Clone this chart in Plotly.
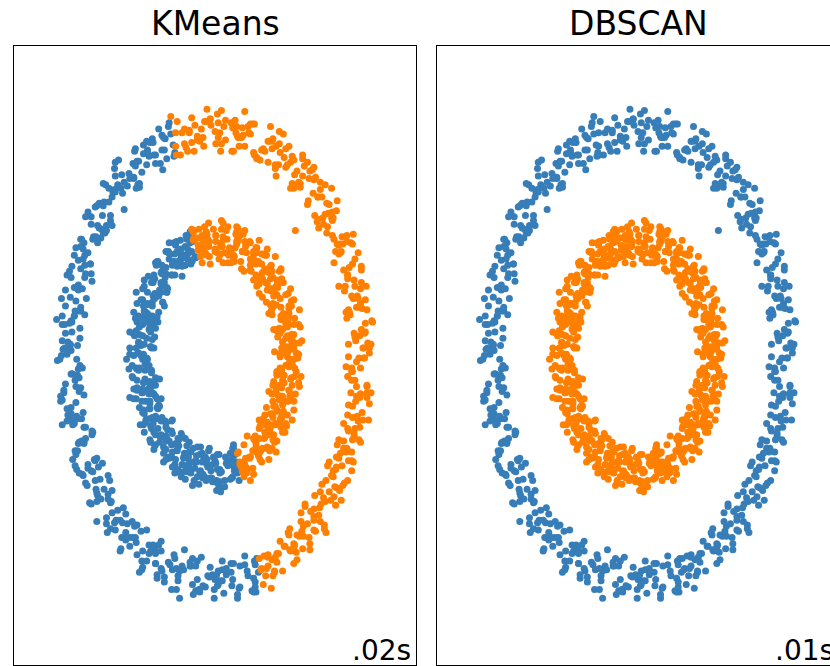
import plotly.graph_objects as go

# Noisy-circles sample points (standardised units, axes -2.5..2.5)
# Outer ring, part that KMeans labels orange (right side of its split)
OUTER_RIGHT = [
    (0.74,-1.74),(0.61,-1.62),(0.70,-1.88),(0.57,-1.73),(0.77,-1.60),(0.66,-1.70),
    (0.63,-1.78),(0.60,-1.85),(0.66,-1.63),(0.58,-1.72),
    (0.84,-1.74),(0.66,-1.61),(0.87,-1.54),(0.77,-1.67),(0.93,-1.57),(0.72,-1.78),
    (0.92,-1.45),(0.81,-1.50),(0.94,-1.58),(1.02,-1.65),(0.86,-1.54),(0.75,-1.63),
    (1.07,-1.34),(1.01,-1.59),(0.93,-1.40),(1.18,-1.52),(0.98,-1.68),(1.10,-1.46),
    (0.99,-1.53),(1.15,-1.36),(1.05,-1.46),(1.23,-1.30),(1.10,-1.38),(1.18,-1.57),
    (1.07,-1.27),(1.23,-1.41),(1.12,-1.20),(1.31,-1.34),(1.17,-1.47),(1.36,-1.40),
    (1.19,-1.26),(1.35,-1.15),(1.23,-1.33),(1.30,-1.23),(1.38,-1.43),(1.12,-1.22),
    (1.52,-1.07),(1.37,-1.18),(1.45,-0.97),(1.29,-1.29),(1.42,-1.10),(1.33,-1.04),
    (1.57,-1.17),(1.31,-1.10),(1.47,-0.98),(1.55,-1.09),(1.38,-1.01),(1.50,-1.21),
    (1.51,-0.82),(1.70,-0.93),(1.42,-0.86),(1.61,-1.03),(1.49,-1.06),(1.56,-0.79),
    (1.72,-0.86),(1.51,-0.90),(1.60,-0.75),(1.70,-0.78),(1.47,-0.93),(1.66,-0.85),
    (1.70,-0.85),(1.52,-0.72),(1.73,-0.65),(1.63,-0.78),(1.79,-0.68),(1.58,-0.89),
    (1.71,-0.50),(1.60,-0.55),(1.73,-0.63),(1.81,-0.70),(1.65,-0.59),(1.54,-0.68),
    (1.80,-0.34),(1.74,-0.59),(1.66,-0.40),(1.91,-0.52),(1.71,-0.68),(1.83,-0.46),
    (1.65,-0.48),(1.81,-0.31),(1.71,-0.41),(1.89,-0.25),(1.76,-0.33),(1.84,-0.52),
    (1.65,-0.17),(1.81,-0.31),(1.70,-0.10),(1.89,-0.24),(1.75,-0.37),(1.94,-0.30),
    (1.70,-0.13),(1.86,-0.02),(1.74,-0.20),(1.81,-0.10),(1.89,-0.30),(1.63,-0.09),
    (1.94,0.09),(1.79,-0.02),(1.87,0.19),(1.71,-0.13),(1.84,0.06),(1.75,0.12),
    (1.92,0.02),(1.66,0.09),(1.82,0.21),(1.90,0.10),(1.73,0.18),(1.85,-0.02),
    (1.76,0.39),(1.95,0.28),(1.67,0.35),(1.86,0.18),(1.74,0.15),(1.81,0.42),
    (1.89,0.37),(1.68,0.33),(1.77,0.48),(1.87,0.45),(1.64,0.30),(1.83,0.38),
    (1.79,0.39),(1.61,0.52),(1.82,0.59),(1.72,0.46),(1.88,0.56),(1.67,0.35),
    (1.71,0.74),(1.60,0.69),(1.73,0.61),(1.81,0.54),(1.65,0.65),(1.54,0.56),
    (1.71,0.90),(1.65,0.65),(1.57,0.84),(1.82,0.72),(1.62,0.56),(1.74,0.78),
    (1.48,0.75),(1.64,0.92),(1.54,0.82),(1.72,0.98),(1.59,0.90),(1.67,0.71),
    (1.40,1.04),(1.56,0.90),(1.45,1.11),(1.64,0.97),(1.50,0.84),(1.69,0.91),
    (1.35,1.06),(1.51,1.17),(1.39,0.99),(1.46,1.09),(1.54,0.89),(1.28,1.10),
    (1.52,1.25),(1.37,1.14),(1.45,1.35),(1.29,1.03),(1.42,1.22),(1.33,1.28),
    (1.41,1.15),(1.15,1.22),(1.31,1.34),(1.39,1.23),(1.22,1.31),(1.34,1.11),
    (1.18,1.49),(1.37,1.38),(1.09,1.45),(1.28,1.28),(1.16,1.25),(1.23,1.52),
    (1.23,1.42),(1.02,1.38),(1.11,1.53),(1.21,1.50),(0.98,1.35),(1.17,1.43),
    (1.06,1.39),(0.88,1.52),(1.09,1.59),(0.99,1.46),(1.15,1.56),(0.94,1.35),
    (0.92,1.69),(0.81,1.64),(0.94,1.56),(1.02,1.49),(0.86,1.60),(0.75,1.51),
    (0.85,1.79),(0.79,1.54),(0.71,1.73),(0.96,1.61),(0.76,1.45),(0.88,1.67),
    (0.56,1.58),(0.72,1.75),(0.62,1.65),(0.80,1.81),(0.67,1.73),(0.75,1.54),
    (0.42,1.80),(0.58,1.66),(0.47,1.87),(0.66,1.73),(0.52,1.60),(0.71,1.67),
    (0.33,1.76),(0.49,1.87),(0.37,1.69),(0.44,1.79),(0.52,1.59),(0.26,1.80),
    (0.44,1.87),(0.29,1.76),(0.37,1.97),(0.21,1.65),(0.34,1.84),(0.25,1.90),
    (0.30,1.69),(0.04,1.76),(0.20,1.88),(0.28,1.77),(0.11,1.85),(0.23,1.65),
    (0.03,1.95),(0.22,1.84),(-0.06,1.91),(0.13,1.74),(0.01,1.71),(0.08,1.98),
    (0.06,1.80),(-0.15,1.76),(-0.06,1.91),(0.04,1.88),(-0.19,1.73),(0.00,1.81),
    (-0.14,1.69),(-0.32,1.82),(-0.11,1.89),(-0.21,1.76),(-0.05,1.86),(-0.26,1.65),
    (-0.25,1.86),(-0.38,1.71),(-0.29,1.92),(-0.41,1.80),(-0.22,1.74),(-0.34,1.65),
    (-0.38,1.83),(-0.47,1.89),(-0.36,1.68),(-0.43,1.62),
    (-0.49,1.80),(-0.55,1.93),
    (1.00,1.01),
    (1.92,0.06),(1.76,-0.05),(1.87,0.26),(1.80,0.16),(1.70,0.48),(1.96,0.27),
    (1.63,0.35),(1.78,0.46),(1.66,0.37),(1.82,0.69),(1.65,0.62),(1.74,0.56),
    (1.52,0.90),(1.78,0.83),(1.56,0.83),(1.48,0.94),(1.58,0.96),(1.46,1.16),
    (1.46,0.97),(1.27,1.08),(1.47,1.11),(1.28,1.28),(1.31,1.40),(1.24,1.13),
    (1.04,1.40),(1.25,1.44),(1.06,1.36),(0.96,1.39),(1.09,1.62),(0.90,1.54),
    (0.80,1.71),(0.98,1.58),(0.66,1.56),(0.76,1.69),(0.48,1.64),(0.69,1.85),
    (0.49,1.62),(0.60,1.67),(0.35,1.78),(0.27,1.85),(0.30,1.76),(0.41,1.85),
    (0.07,1.65),(0.13,1.90),(0.08,1.71),(-0.17,1.83),(-0.10,1.99),(-0.22,1.77),
    (-0.13,1.89),(-0.29,1.72),(-0.32,1.80),(-0.49,1.69),(-0.48,1.62),
    (0.55,-1.64),(0.71,-1.65),(0.74,-1.75),(0.64,-1.72),(0.98,-1.52),(0.79,-1.60),
    (0.91,-1.43),(1.09,-1.56),(0.98,-1.55),(1.08,-1.42),(1.02,-1.45),(1.23,-1.24),
    (1.25,-1.42),(1.36,-1.37),(1.32,-1.20),(1.24,-1.13),(1.48,-1.14),(1.59,-1.05),
    (1.44,-1.17),(1.50,-0.92),(1.65,-1.01),(1.40,-0.89),(1.66,-0.61),(1.54,-0.83),
    (1.80,-0.58),(1.64,-0.75),(1.78,-0.53),(1.60,-0.69),(1.77,-0.49),(1.69,-0.30),
    (1.92,-0.39),(1.76,-0.25),(1.89,-0.34),(1.70,-0.20),(1.85,0.06),(1.66,-0.01),
]

# Outer ring, part that KMeans labels blue
OUTER_LEFT = [
    (-0.62,1.75),(-0.74,1.62),(-0.70,1.83),(-0.60,1.59),(-0.77,1.72),(-0.66,1.66),
    (-0.52,1.70),(-0.55,1.79),
    (-0.63,1.66),(-0.58,1.85),(-0.51,1.61),(-0.66,1.78),
    (-0.78,1.75),(-0.89,1.70),(-0.76,1.62),(-0.68,1.55),(-0.84,1.66),(-0.95,1.57),
    (-0.85,1.73),(-0.91,1.48),(-0.99,1.67),(-0.74,1.55),(-0.94,1.39),(-0.82,1.61),
    (-1.13,1.40),(-0.97,1.57),(-1.07,1.47),(-0.89,1.63),(-1.02,1.55),(-0.94,1.36),
    (-1.25,1.51),(-1.09,1.37),(-1.20,1.58),(-1.01,1.44),(-1.15,1.31),(-0.96,1.38),
    (-1.32,1.35),(-1.16,1.46),(-1.28,1.28),(-1.21,1.38),(-1.13,1.18),(-1.39,1.39),
    (-1.17,1.35),(-1.32,1.24),(-1.24,1.45),(-1.40,1.13),(-1.27,1.32),(-1.36,1.38),
    (-1.28,1.05),(-1.54,1.12),(-1.38,1.24),(-1.30,1.13),(-1.47,1.21),(-1.35,1.01),
    (-1.49,1.20),(-1.30,1.09),(-1.58,1.16),(-1.39,0.99),(-1.51,0.96),(-1.44,1.23),
    (-1.42,0.95),(-1.63,0.91),(-1.54,1.06),(-1.44,1.03),(-1.67,0.88),(-1.48,0.96),
    (-1.55,0.74),(-1.73,0.87),(-1.52,0.94),(-1.62,0.81),(-1.46,0.91),(-1.67,0.70),
    (-1.64,0.86),(-1.75,0.81),(-1.62,0.73),(-1.54,0.66),(-1.70,0.77),(-1.81,0.68),
    (-1.64,0.78),(-1.70,0.53),(-1.78,0.72),(-1.53,0.60),(-1.73,0.44),(-1.61,0.66),
    (-1.86,0.40),(-1.70,0.57),(-1.80,0.47),(-1.62,0.63),(-1.75,0.55),(-1.67,0.36),
    (-1.91,0.46),(-1.75,0.32),(-1.86,0.53),(-1.67,0.39),(-1.81,0.26),(-1.62,0.33),
    (-1.90,0.25),(-1.74,0.36),(-1.86,0.18),(-1.79,0.28),(-1.71,0.08),(-1.97,0.29),
    (-1.68,0.22),(-1.83,0.11),(-1.75,0.32),(-1.91,0.00),(-1.78,0.19),(-1.87,0.25),
    (-1.70,-0.11),(-1.96,-0.04),(-1.80,0.08),(-1.72,-0.03),(-1.89,0.05),(-1.77,-0.15),
    (-1.84,0.01),(-1.65,-0.10),(-1.93,-0.03),(-1.74,-0.20),(-1.86,-0.23),(-1.79,0.04),
    (-1.67,-0.26),(-1.88,-0.30),(-1.79,-0.15),(-1.69,-0.18),(-1.92,-0.33),(-1.73,-0.25),
    (-1.72,-0.49),(-1.90,-0.36),(-1.69,-0.29),(-1.79,-0.42),(-1.63,-0.32),(-1.84,-0.53),
    (-1.73,-0.38),(-1.84,-0.43),(-1.71,-0.51),(-1.63,-0.58),(-1.79,-0.47),(-1.90,-0.56),
    (-1.64,-0.46),(-1.70,-0.71),(-1.78,-0.52),(-1.53,-0.64),(-1.73,-0.80),(-1.61,-0.58),
    (-1.77,-0.84),(-1.61,-0.67),(-1.71,-0.77),(-1.53,-0.61),(-1.66,-0.69),(-1.58,-0.88),
    (-1.74,-0.77),(-1.58,-0.91),(-1.69,-0.70),(-1.50,-0.84),(-1.64,-0.97),(-1.45,-0.90),
    (-1.65,-0.96),(-1.49,-0.85),(-1.61,-1.03),(-1.54,-0.93),(-1.46,-1.13),(-1.72,-0.92),
    (-1.33,-0.97),(-1.48,-1.08),(-1.40,-0.87),(-1.56,-1.19),(-1.43,-1.00),(-1.52,-0.94),
    (-1.28,-1.27),(-1.54,-1.20),(-1.38,-1.08),(-1.30,-1.19),(-1.47,-1.11),(-1.35,-1.31),
    (-1.33,-1.12),(-1.14,-1.23),(-1.42,-1.16),(-1.23,-1.33),(-1.35,-1.36),(-1.28,-1.09),
    (-1.09,-1.36),(-1.30,-1.40),(-1.21,-1.25),(-1.11,-1.28),(-1.34,-1.43),(-1.15,-1.35),
    (-1.06,-1.54),(-1.24,-1.41),(-1.03,-1.34),(-1.13,-1.47),(-0.97,-1.37),(-1.18,-1.58),
    (-1.00,-1.38),(-1.11,-1.43),(-0.98,-1.51),(-0.90,-1.58),(-1.06,-1.47),(-1.17,-1.56),
    (-0.85,-1.41),(-0.91,-1.66),(-0.99,-1.47),(-0.74,-1.59),(-0.94,-1.75),(-0.82,-1.53),
    (-0.91,-1.73),(-0.75,-1.56),(-0.85,-1.66),(-0.67,-1.50),(-0.80,-1.58),(-0.72,-1.77),
    (-0.82,-1.60),(-0.66,-1.74),(-0.77,-1.53),(-0.58,-1.67),(-0.72,-1.80),(-0.53,-1.73),
    (-0.67,-1.72),(-0.51,-1.61),(-0.63,-1.79),(-0.56,-1.69),(-0.48,-1.89),(-0.74,-1.68),
    (-0.31,-1.67),(-0.46,-1.78),(-0.38,-1.57),(-0.54,-1.89),(-0.41,-1.70),(-0.50,-1.64),
    (-0.20,-1.89),(-0.46,-1.82),(-0.30,-1.70),(-0.22,-1.81),(-0.39,-1.73),(-0.27,-1.93),
    (-0.22,-1.66),(-0.03,-1.77),(-0.31,-1.70),(-0.12,-1.87),(-0.24,-1.90),(-0.17,-1.63),
    (0.06,-1.82),(-0.15,-1.86),(-0.06,-1.71),(0.04,-1.74),(-0.19,-1.89),(0.00,-1.81),
    (0.11,-1.92),(-0.07,-1.79),(0.14,-1.72),(0.04,-1.85),(0.20,-1.75),(-0.01,-1.96),
    (0.20,-1.68),(0.09,-1.73),(0.22,-1.81),(0.30,-1.88),(0.14,-1.77),(0.03,-1.86),
    (0.37,-1.62),(0.31,-1.87),(0.23,-1.68),(0.48,-1.80),(0.28,-1.96),(0.40,-1.74),
    (0.50,-1.83),(0.37,-1.69),(0.46,-1.90),(0.41,-1.78),(0.52,-1.64),
    (0.49,-1.66),(0.54,-1.75),(0.51,-1.91),
    (-0.50,1.64),(-0.57,1.88),(-0.64,1.76),(-0.65,1.50),(-0.84,1.64),(-0.81,1.72),
    (-1.00,1.65),(-0.85,1.54),(-1.01,1.43),(-0.99,1.53),(-1.06,1.43),(-1.24,1.56),
    (-0.98,1.35),(-1.39,1.21),(-1.24,1.32),(-1.41,1.02),(-1.25,1.34),(-1.46,1.05),
    (-1.37,0.99),(-1.61,1.12),(-1.35,1.05),(-1.58,0.83),(-1.66,0.94),(-1.55,0.74),
    (-1.67,0.94),(-1.65,0.54),(-1.84,0.65),(-1.60,0.46),(-1.79,0.63),(-1.71,0.54),
    (-1.78,0.27),(-1.90,0.32),(-1.69,0.36),(-1.80,0.09),(-1.90,0.12),(-1.68,0.14),
    (-1.87,0.06),(-1.86,0.05),(-1.68,-0.08),(-1.88,-0.28),(-1.78,-0.15),(-1.92,-0.37),
    (-1.71,-0.16),(-1.77,-0.56),(-1.66,-0.51),(-1.75,-0.55),(-1.83,-0.48),(-1.63,-0.71),
    (-1.52,-0.62),(-1.69,-0.95),(-1.63,-0.70),(-1.49,-1.01),(-1.74,-0.89),(-1.47,-0.83),
    (-1.59,-1.05),(-1.31,-1.01),(-1.47,-1.18),(-1.29,-1.18),(-1.47,-1.34),(-1.25,-1.35),
    (-1.33,-1.16),(-1.02,-1.47),(-1.18,-1.33),(-0.97,-1.61),(-1.16,-1.47),(-0.92,-1.42),
    (-1.11,-1.49),(-0.74,-1.60),(-0.90,-1.71),(-0.67,-1.58),(-0.74,-1.68),(-0.70,-1.53),
    (-0.44,-1.74),(-0.63,-1.83),(-0.48,-1.72),(-0.44,-1.96),(-0.28,-1.64),(-0.28,-1.85),
    (-0.19,-1.91),(-0.24,-1.70),(0.02,-1.77),(-0.01,-1.89),(-0.09,-1.78),(0.21,-1.86),
    (0.09,-1.66),(0.28,-1.93),(0.09,-1.82),(0.50,-1.87),(0.31,-1.70),(0.48,-1.91),
    (0.50,-1.69),
]

# Inner ring, part that KMeans labels orange
INNER_RIGHT = [
    (0.40,-0.94),(0.51,-0.78),(0.33,-0.90),(0.43,-0.83),(0.44,-1.01),
    (0.55,-0.67),(0.44,-0.82),(0.65,-0.74),(0.33,-0.90),(0.52,-0.77),(0.58,-0.86),
    (0.40,-0.65),(0.47,-0.91),(0.59,-0.75),(0.48,-0.67),(0.56,-0.84),(0.36,-0.72),
    (0.71,-0.75),(0.60,-0.56),(0.67,-0.84),(0.50,-0.65),(0.47,-0.77),(0.74,-0.70),
    (0.61,-0.56),(0.57,-0.77),(0.72,-0.68),(0.69,-0.58),(0.54,-0.81),(0.62,-0.62),
    (0.55,-0.59),(0.68,-0.77),(0.75,-0.56),(0.62,-0.66),(0.72,-0.50),(0.51,-0.71),
    (0.82,-0.58),(0.77,-0.69),(0.69,-0.56),(0.62,-0.48),(0.73,-0.64),(0.64,-0.75),
    (0.90,-0.48),(0.65,-0.54),(0.84,-0.62),(0.72,-0.37),(0.56,-0.57),(0.78,-0.45),
    (0.68,-0.61),(0.85,-0.45),(0.75,-0.55),(0.91,-0.37),(0.83,-0.50),(0.64,-0.42),
    (0.89,-0.57),(0.75,-0.41),(0.96,-0.52),(0.82,-0.33),(0.69,-0.47),(0.76,-0.28),
    (0.84,-0.48),(0.95,-0.32),(0.77,-0.44),(0.87,-0.37),(0.67,-0.29),(0.88,-0.55),
    (0.95,-0.18),(0.84,-0.33),(1.05,-0.25),(0.73,-0.41),(0.92,-0.28),(0.98,-0.37),
    (0.77,-0.14),(0.84,-0.40),(0.96,-0.24),(0.85,-0.16),(0.93,-0.33),(0.73,-0.21),
    (1.04,-0.22),(0.93,-0.03),(1.00,-0.31),(0.83,-0.12),(0.80,-0.24),(1.07,-0.17),
    (0.90,-0.01),(0.86,-0.22),(1.01,-0.13),(0.98,-0.03),(0.83,-0.26),(0.91,-0.07),
    (0.81,-0.01),(0.94,-0.19),(1.01,0.02),(0.88,-0.08),(0.98,0.08),(0.77,-0.13),
    (1.04,0.01),(0.99,-0.10),(0.91,0.03),(0.84,0.11),(0.95,-0.05),(0.86,-0.16),
    (1.08,0.12),(0.83,0.06),(1.02,-0.02),(0.90,0.23),(0.74,0.03),(0.96,0.15),
    (0.81,0.01),(0.98,0.17),(0.88,0.07),(1.04,0.25),(0.96,0.12),(0.77,0.20),
    (0.98,0.05),(0.84,0.21),(1.05,0.10),(0.91,0.29),(0.78,0.15),(0.85,0.34),
    (0.88,0.14),(0.99,0.30),(0.81,0.18),(0.91,0.25),(0.71,0.33),(0.92,0.07),
    (0.95,0.44),(0.84,0.29),(1.05,0.37),(0.73,0.21),(0.92,0.34),(0.98,0.25),
    (0.73,0.48),(0.80,0.22),(0.92,0.38),(0.81,0.46),(0.89,0.29),(0.69,0.41),
    (0.95,0.40),(0.84,0.59),(0.91,0.31),(0.74,0.50),(0.71,0.38),(0.98,0.45),
    (0.77,0.61),(0.73,0.40),(0.88,0.49),(0.85,0.59),(0.70,0.36),(0.78,0.55),
    (0.63,0.59),(0.76,0.41),(0.83,0.62),(0.70,0.52),(0.80,0.68),(0.59,0.47),
    (0.82,0.60),(0.77,0.49),(0.69,0.62),(0.62,0.70),(0.73,0.54),(0.64,0.43),
    (0.82,0.70),(0.57,0.64),(0.76,0.56),(0.64,0.81),(0.48,0.61),(0.70,0.73),
    (0.52,0.56),(0.69,0.72),(0.59,0.62),(0.75,0.80),(0.67,0.67),(0.48,0.75),
    (0.65,0.58),(0.51,0.74),(0.72,0.63),(0.58,0.82),(0.45,0.68),(0.52,0.87),
    (0.51,0.65),(0.62,0.81),(0.44,0.69),(0.54,0.76),(0.34,0.84),(0.55,0.58),
    (0.55,0.93),(0.44,0.78),(0.65,0.86),(0.33,0.70),(0.52,0.83),(0.58,0.74),
    (0.29,0.94),(0.36,0.68),(0.48,0.84),(0.37,0.92),(0.45,0.75),(0.25,0.87),
    (0.48,0.82),(0.37,1.01),(0.44,0.73),(0.27,0.92),(0.24,0.80),(0.51,0.87),
    (0.27,1.00),(0.23,0.79),(0.38,0.88),(0.35,0.98),(0.20,0.75),(0.28,0.94),
    (0.11,0.94),(0.24,0.76),(0.31,0.97),(0.18,0.87),(0.28,1.03),(0.07,0.82),
    (0.28,0.92),(0.23,0.81),(0.15,0.94),(0.08,1.02),(0.19,0.86),(0.10,0.75),
    (0.26,0.98),(0.01,0.92),(0.20,0.84),(0.08,1.09),(-0.08,0.89),(0.14,1.01),
    (-0.07,0.80),(0.10,0.96),(0.00,0.86),(0.16,1.04),(0.08,0.91),(-0.11,0.99),
    (0.05,0.78),(-0.09,0.94),(0.12,0.83),(-0.02,1.02),(-0.15,0.88),(-0.08,1.07),
    (-0.10,0.81),(0.01,0.97),(-0.17,0.85),(-0.07,0.92),(-0.27,1.00),(-0.06,0.74),
    (-0.10,0.98),(-0.21,0.85),(-0.13,1.04),(-0.24,0.95),(-0.18,0.80),(-0.08,0.88),
    (-0.16,0.97),(-0.20,1.02),(-0.27,0.93),(-0.15,0.86),
    (-0.22,0.95),(-0.26,1.01),(-0.21,0.89),
    (0.31,-0.86),(0.34,-0.94),(0.36,-0.86),(0.29,-0.78),
    (0.40,-0.91),(0.28,-0.79),(0.36,-0.98),(0.31,-0.88),(0.43,-0.82),
    (1.03,-0.02),(0.90,0.16),(0.82,0.02),(0.95,0.12),(0.85,0.02),(1.06,0.23),
    (0.77,0.21),(0.82,0.32),(0.88,0.25),(0.95,0.17),(0.82,0.39),(0.91,0.50),
    (0.67,0.34),(0.92,0.40),(0.70,0.54),(0.82,0.29),(0.94,0.54),(0.72,0.42),
    (0.82,0.69),(0.65,0.53),(0.71,0.68),(0.55,0.50),(0.59,0.67),(0.78,0.59),
    (0.51,0.84),(0.65,0.68),(0.39,0.83),(0.53,0.64),(0.61,0.82),(0.54,0.63),
    (0.43,0.92),(0.32,0.76),(0.44,0.91),(0.34,0.84),(0.48,0.78),(0.27,1.04),
    (0.16,0.75),(0.27,0.90),(0.00,0.84),(0.32,1.00),(0.07,0.88),(0.01,0.97),
    (0.17,0.81),(0.10,1.07),(-0.08,0.91),(0.03,0.83),(-0.11,1.00),(0.09,0.88),
    (-0.27,0.94),(-0.16,0.75),(-0.29,1.02),(-0.12,0.83),(-0.15,0.93),(-0.26,0.95),
    (0.39,-0.95),(0.37,-0.88),(0.36,-0.94),(0.55,-0.77),(0.48,-0.96),(0.49,-0.67),
    (0.38,-0.83),(0.61,-0.67),(0.51,-0.74),(0.76,-0.78),(0.55,-0.52),(0.55,-0.79),
    (0.66,-0.64),(0.49,-0.68),(0.81,-0.52),(0.66,-0.60),(0.60,-0.51),(0.87,-0.62),
    (0.80,-0.36),(0.72,-0.47),(0.83,-0.55),(0.78,-0.32),(0.98,-0.44),(0.71,-0.31),
    (0.82,-0.50),(0.77,-0.16),(0.94,-0.35),(0.99,-0.17),(0.72,-0.24),(0.92,-0.28),
    (0.96,-0.07),(0.81,-0.10),(0.84,-0.20),(1.00,0.10),(0.92,-0.09),
]

# Inner ring, part that KMeans labels blue
INNER_LEFT = [
    (-0.29,0.84),(-0.24,0.79),
    (-0.34,0.82),(-0.31,0.91),(-0.36,0.97),(-0.25,0.80),
    (-0.28,0.92),(-0.40,0.79),(-0.31,1.00),(-0.37,0.88),(-0.29,0.76),(-0.43,0.93),
    (-0.31,0.96),(-0.42,0.81),(-0.53,0.73),(-0.34,0.86),(-0.28,0.77),
    (-0.57,0.91),(-0.50,0.65),(-0.38,0.81),(-0.49,0.89),(-0.41,0.72),(-0.61,0.84),
    (-0.37,0.73),(-0.48,0.92),(-0.41,0.64),(-0.58,0.83),(-0.61,0.71),(-0.34,0.78),
    (-0.58,0.84),(-0.62,0.63),(-0.47,0.72),(-0.50,0.82),(-0.65,0.59),(-0.57,0.78),
    (-0.73,0.73),(-0.60,0.55),(-0.53,0.76),(-0.66,0.66),(-0.56,0.82),(-0.77,0.61),
    (-0.54,0.65),(-0.59,0.54),(-0.67,0.67),(-0.74,0.75),(-0.63,0.59),(-0.72,0.48),
    (-0.54,0.65),(-0.79,0.59),(-0.60,0.51),(-0.72,0.76),(-0.88,0.56),(-0.66,0.68),
    (-0.84,0.42),(-0.67,0.58),(-0.77,0.48),(-0.61,0.66),(-0.69,0.53),(-0.88,0.61),
    (-0.70,0.35),(-0.84,0.51),(-0.63,0.40),(-0.77,0.59),(-0.90,0.45),(-0.83,0.64),
    (-0.81,0.32),(-0.70,0.48),(-0.88,0.36),(-0.78,0.43),(-0.98,0.51),(-0.77,0.25),
    (-0.75,0.50),(-0.86,0.35),(-0.65,0.43),(-0.97,0.27),(-0.78,0.40),(-0.72,0.31),
    (-0.97,0.42),(-0.90,0.16),(-0.78,0.32),(-0.89,0.40),(-0.81,0.23),(-1.01,0.35),
    (-0.74,0.22),(-0.85,0.41),(-0.78,0.13),(-0.95,0.32),(-0.98,0.20),(-0.71,0.27),
    (-0.91,0.31),(-0.95,0.10),(-0.80,0.19),(-0.83,0.29),(-0.98,0.06),(-0.90,0.25),
    (-1.02,0.18),(-0.89,0.00),(-0.82,0.21),(-0.95,0.11),(-0.85,0.27),(-1.06,0.06),
    (-0.80,0.07),(-0.85,-0.04),(-0.93,0.09),(-1.00,0.17),(-0.89,0.01),(-0.98,-0.10),
    (-0.76,0.06),(-1.01,0.00),(-0.82,-0.08),(-0.94,0.17),(-1.10,-0.03),(-0.88,0.09),
    (-1.02,-0.18),(-0.85,-0.02),(-0.95,-0.12),(-0.79,0.06),(-0.87,-0.07),(-1.06,0.01),
    (-0.83,-0.27),(-0.97,-0.11),(-0.76,-0.22),(-0.90,-0.03),(-1.03,-0.17),(-0.96,0.02),
    (-0.90,-0.30),(-0.79,-0.14),(-0.97,-0.26),(-0.87,-0.19),(-1.07,-0.11),(-0.86,-0.37),
    (-0.79,-0.12),(-0.90,-0.27),(-0.69,-0.19),(-1.01,-0.35),(-0.82,-0.22),(-0.76,-0.31),
    (-0.97,-0.20),(-0.90,-0.46),(-0.78,-0.30),(-0.89,-0.22),(-0.81,-0.39),(-1.01,-0.27),
    (-0.70,-0.40),(-0.81,-0.21),(-0.74,-0.49),(-0.91,-0.30),(-0.94,-0.42),(-0.67,-0.35),
    (-0.82,-0.31),(-0.86,-0.52),(-0.71,-0.43),(-0.74,-0.33),(-0.89,-0.56),(-0.81,-0.37),
    (-0.89,-0.44),(-0.76,-0.62),(-0.69,-0.41),(-0.82,-0.51),(-0.72,-0.35),(-0.93,-0.56),
    (-0.62,-0.53),(-0.67,-0.64),(-0.75,-0.51),(-0.82,-0.43),(-0.71,-0.59),(-0.80,-0.70),
    (-0.54,-0.53),(-0.79,-0.59),(-0.60,-0.67),(-0.72,-0.42),(-0.88,-0.62),(-0.66,-0.50),
    (-0.76,-0.76),(-0.59,-0.60),(-0.69,-0.70),(-0.53,-0.52),(-0.61,-0.65),(-0.80,-0.57),
    (-0.54,-0.82),(-0.68,-0.66),(-0.47,-0.77),(-0.61,-0.58),(-0.74,-0.72),(-0.67,-0.53),
    (-0.57,-0.83),(-0.46,-0.67),(-0.64,-0.79),(-0.54,-0.72),(-0.74,-0.64),(-0.53,-0.90),
    (-0.42,-0.63),(-0.53,-0.78),(-0.32,-0.70),(-0.64,-0.86),(-0.45,-0.73),(-0.39,-0.82),
    (-0.57,-0.69),(-0.50,-0.95),(-0.38,-0.79),(-0.49,-0.71),(-0.41,-0.88),(-0.61,-0.76),
    (-0.26,-0.86),(-0.37,-0.67),(-0.30,-0.95),(-0.47,-0.76),(-0.50,-0.88),(-0.23,-0.81),
    (-0.35,-0.73),(-0.39,-0.94),(-0.24,-0.85),(-0.27,-0.75),(-0.42,-0.98),(-0.34,-0.79),
    (-0.39,-0.83),(-0.26,-1.01),(-0.19,-0.80),(-0.32,-0.90),(-0.22,-0.74),(-0.43,-0.95),
    (-0.10,-0.88),(-0.15,-0.99),(-0.23,-0.86),(-0.30,-0.78),(-0.19,-0.94),(-0.28,-1.05),
    (0.00,-0.85),(-0.25,-0.91),(-0.06,-0.99),(-0.18,-0.74),(-0.34,-0.94),(-0.12,-0.82),
    (-0.20,-1.04),(-0.03,-0.88),(-0.13,-0.98),(0.03,-0.80),(-0.05,-0.93),(-0.24,-0.85),
    (0.05,-1.06),(-0.09,-0.90),(0.12,-1.01),(-0.02,-0.82),(-0.15,-0.96),(-0.08,-0.77),
    (0.03,-1.03),(0.14,-0.87),(-0.04,-0.99),(0.06,-0.92),(-0.14,-0.84),(0.07,-1.10),
    (0.19,-0.79),(0.08,-0.94),(0.27,-0.86),(-0.03,-1.02),(0.16,-0.89),(0.22,-0.98),
    (0.05,-0.80),(0.12,-1.06),(0.24,-0.90),(0.13,-0.82),(0.21,-0.99),(0.01,-0.87),
    (0.28,-0.95),(0.15,-0.84),(0.19,-1.00),(0.25,-0.80),(0.24,-0.93),
    (0.22,-0.82),(0.30,-1.01),(0.25,-0.90),(0.27,-0.92),(0.23,-0.75),
    (-0.42,0.86),(-0.30,0.74),(-0.47,0.84),(-0.44,0.74),(-0.35,0.94),(-0.43,0.75),
    (-0.38,0.73),(-0.51,0.91),(-0.63,0.66),(-0.50,0.76),(-0.65,0.56),(-0.44,0.77),
    (-0.76,0.65),(-0.71,0.76),(-0.67,0.59),(-0.60,0.51),(-0.75,0.62),(-0.66,0.73),
    (-0.92,0.45),(-0.67,0.51),(-0.90,0.54),(-0.78,0.29),(-0.65,0.43),(-0.87,0.31),
    (-0.75,0.46),(-0.92,0.30),(-0.84,0.34),(-1.00,0.16),(-0.94,0.23),(-0.75,0.15),
    (-0.99,0.30),(-0.85,0.14),(-1.06,0.19),(-0.92,0.00),(-0.80,0.07),(-0.87,-0.12),
    (-0.92,0.08),(-1.03,-0.08),(-0.84,-0.03),(-0.94,-0.10),(-0.74,-0.24),(-0.95,0.02),
    (-0.98,-0.35),(-0.87,-0.20),(-1.06,-0.34),(-0.74,-0.18),(-0.91,-0.37),(-0.97,-0.28),
    (-0.72,-0.51),(-0.79,-0.25),(-0.88,-0.47),(-0.77,-0.55),(-0.81,-0.43),(-0.61,-0.55),
    (-0.86,-0.54),(-0.75,-0.73),(-0.78,-0.50),(-0.61,-0.69),(-0.54,-0.61),(-0.81,-0.68),
    (-0.58,-0.82),(-0.53,-0.63),(-0.64,-0.74),(-0.61,-0.84),(-0.41,-0.65),(-0.49,-0.84),
    (-0.32,-0.86),(-0.45,-0.68),(-0.46,-0.92),(-0.33,-0.82),(-0.37,-1.00),(-0.16,-0.79),
    (-0.37,-0.89),(-0.32,-0.78),(-0.18,-0.93),(-0.11,-1.01),(-0.16,-0.86),(-0.07,-0.75),
    (-0.22,-0.98),(0.03,-0.92),(-0.10,-0.84),(0.02,-1.09),(0.24,-0.89),(0.02,-1.01),
    (0.23,-0.79),(0.06,-0.95),(0.22,-0.84),(0.06,-1.02),(0.20,-0.87),(0.23,-0.72),
    (0.22,-0.75),
]

TITLES = ["KMeans", "DBSCAN"]
TIMES = [".02s", ".01s"]
BLUE = "#377eb8"
ORANGE = "#ff7f00"


def xs(pts):
    return [p[0] for p in pts]


def ys(pts):
    return [p[1] for p in pts]


fig = go.Figure()
marker_size = 7

panels = [
    ("x", "y", OUTER_LEFT + INNER_LEFT, OUTER_RIGHT + INNER_RIGHT),
    ("x2", "y2", OUTER_LEFT + OUTER_RIGHT, INNER_LEFT + INNER_RIGHT),
]
for xa, ya, blue_pts, orange_pts in panels:
    fig.add_trace(go.Scatter(x=xs(blue_pts), y=ys(blue_pts), mode="markers",
                             marker=dict(color=BLUE, size=marker_size, line=dict(width=0)),
                             xaxis=xa, yaxis=ya, hoverinfo="skip", showlegend=False))
    fig.add_trace(go.Scatter(x=xs(orange_pts), y=ys(orange_pts), mode="markers",
                             marker=dict(color=ORANGE, size=marker_size, line=dict(width=0)),
                             xaxis=xa, yaxis=ya, hoverinfo="skip", showlegend=False))

W, H = 830, 666
ML, MR, MT, MB = 14, 0, 46, 1
PW = W - ML - MR
panel_px = 402
gap_px = 21
d1 = panel_px / PW
d2s = (panel_px + gap_px) / PW
vis2 = PW - (panel_px + gap_px)
x2max = -2.5 + 5.0 * vis2 / panel_px

axis_common = dict(showticklabels=False, ticks="", showgrid=False, zeroline=False,
                   showline=True, linecolor="black", linewidth=1.3, fixedrange=True)

fig.update_layout(
    width=W, height=H,
    margin=dict(l=ML, r=MR, t=MT, b=MB),
    paper_bgcolor="white", plot_bgcolor="white",
    xaxis=dict(domain=[0, d1], range=[-2.5, 2.5], mirror=True, anchor="y", **axis_common),
    yaxis=dict(domain=[0, 1], range=[-2.5, 2.5], mirror=True, anchor="x", **axis_common),
    xaxis2=dict(domain=[d2s, 1], range=[-2.5, x2max], mirror=True, anchor="y2", **axis_common),
    yaxis2=dict(domain=[0, 1], range=[-2.5, 2.5], mirror=False, anchor="x2", **axis_common),
    font=dict(family="DejaVu Sans", color="black"),
    hovermode=False,
)

centers = [panel_px / 2 / PW, (panel_px + gap_px + panel_px / 2) / PW]
rights = [(panel_px - 3) / PW, (panel_px + gap_px + panel_px - 3) / PW]
for i in range(2):
    fig.add_annotation(text=TITLES[i], xref="paper", yref="paper", x=centers[i], y=1,
                       xanchor="center", yanchor="bottom", yshift=1, showarrow=False,
                       font=dict(size=33, family="DejaVu Sans", color="black"))
    fig.add_annotation(text=TIMES[i], xref="paper", yref="paper", x=rights[i], y=0,
                       xanchor="right", yanchor="bottom", yshift=-4, showarrow=False,
                       font=dict(size=28, family="DejaVu Sans", color="black"))

fig.write_html(
    "out.html",
    config={"displayModeBar": False},
    post_script="document.body.style.margin='0px';document.body.style.overflow='hidden';",
)
